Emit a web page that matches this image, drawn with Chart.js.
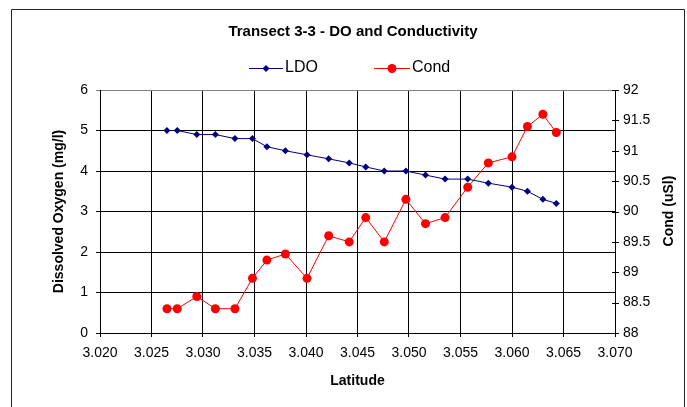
<!DOCTYPE html>
<html><head><meta charset="utf-8">
<script src="https://cdn.jsdelivr.net/npm/chart.js@4"></script>
<style>html,body{margin:0;padding:0;background:#fff;}#wrap{position:relative;width:687px;height:407px;}</style>
</head><body><div id="wrap"><canvas id="c" width="687" height="407"></canvas></div>
<script>
const chartTitle = 'Transect 3-3 - DO and Conductivity';
const latitude = [3.0265,3.0275,3.0294,3.0312,3.0331,3.0348,3.0362,3.0380,3.0401,3.0422,3.0442,3.0458,3.0476,3.0497,3.0516,3.0535,3.0557,3.0577,3.0600,3.0615,3.0630,3.0643];
const ldo = [5.0,5.0,4.9,4.9,4.8,4.8,4.6,4.5,4.4,4.3,4.2,4.1,4.0,4.0,3.9,3.8,3.8,3.7,3.6,3.5,3.3,3.2];
const cond = [88.4,88.4,88.6,88.4,88.4,88.9,89.2,89.3,88.9,89.6,89.5,89.9,89.5,90.2,89.8,89.9,90.4,90.8,90.9,91.4,91.6,91.3];
const xTicks = [3.020,3.025,3.030,3.035,3.040,3.045,3.050,3.055,3.060,3.065,3.070];
const leftTicks = [0,1,2,3,4,5,6];
const rightTicks = [88,88.5,89,89.5,90,90.5,91,91.5,92];

const FAM = '"Liberation Sans", Arial, sans-serif';

const deco = {
  id: 'deco',
  beforeDraw(chart) {
    const c = chart.ctx;
    c.save();
    c.fillStyle = '#fff';
    c.fillRect(0, 0, chart.width, chart.height);
    c.strokeStyle = '#222';
    c.lineWidth = 1;
    c.beginPath();
    c.moveTo(11.5, 430); c.lineTo(11.5, 9.5); c.lineTo(684.5, 9.5); c.lineTo(684.5, 430);
    c.stroke();
    c.restore();
  },
  afterDraw(chart) {
    const c = chart.ctx;
    c.save();
    // title
    c.fillStyle = '#000';
    c.font = 'bold 15px ' + FAM;
    c.textAlign = 'center';
    c.textBaseline = 'middle';
    c.fillText(chartTitle, 353, 32);
    // legend
    const ds = chart.data.datasets;
    const items = [{d: ds[0], x0: 249, x1: 283, tx: 285}, {d: ds[1], x0: 374, x1: 410, tx: 412}];
    const ly = 68;
    items.forEach(it => {
      c.strokeStyle = it.d.borderColor;
      c.lineWidth = 1;
      c.beginPath(); c.moveTo(it.x0, ly + 0.5); c.lineTo(it.x1, ly + 0.5); c.stroke();
      c.fillStyle = it.d.backgroundColor;
      const cx = (it.x0 + it.x1) / 2;
      c.beginPath();
      if (it.d.pointStyle === 'rectRot') {
        const r = it.d.pointRadius;
        c.moveTo(cx, ly + 0.5 - r); c.lineTo(cx + r, ly + 0.5); c.lineTo(cx, ly + 0.5 + r); c.lineTo(cx - r, ly + 0.5); c.closePath();
      } else {
        c.arc(cx, ly + 0.5, it.d.pointRadius, 0, Math.PI * 2);
      }
      c.fill();
      c.fillStyle = '#000';
      c.font = '16px ' + FAM;
      c.textAlign = 'left';
      c.fillText(it.d.label, it.tx, ly);
    });
    // right axis crossing tick marks
    const s = chart.scales.y2;
    c.strokeStyle = '#000';
    c.lineWidth = 1;
    s.ticks.forEach(t => {
      const y = Math.round(s.getPixelForValue(t.value)) + 0.5;
      c.beginPath(); c.moveTo(s.left - 3, y); c.lineTo(s.left + 4, y); c.stroke();
    });
    // right axis title
    c.translate(669, 211);
    c.rotate(-Math.PI / 2);
    c.font = 'bold 14px ' + FAM;
    c.textAlign = 'center';
    c.fillStyle = '#000';
    c.fillText('Cond (uSl)', 0, 0);
    c.restore();
  }
};

new Chart(document.getElementById('c'), {
  type: 'scatter',
  data: {
    datasets: [
      {label: 'LDO', data: latitude.map((x, i) => ({x: x, y: ldo[i]})), yAxisID: 'y', showLine: true,
       borderColor: '#000080', backgroundColor: '#000080', borderWidth: 1, pointStyle: 'rectRot',
       pointRadius: 3.5, pointHoverRadius: 3.5, pointBorderWidth: 0},
      {label: 'Cond', data: latitude.map((x, i) => ({x: x, y: cond[i]})), yAxisID: 'y2', showLine: true,
       borderColor: '#FF0000', backgroundColor: '#FF0000', borderWidth: 1, pointStyle: 'circle',
       pointRadius: 4.5, pointHoverRadius: 4.5, pointBorderWidth: 0}
    ]
  },
  options: {
    responsive: false, animation: false, devicePixelRatio: 1,
    layout: {padding: {top: 90, left: 0, right: 0, bottom: 0}},
    plugins: {legend: {display: false}, title: {display: false}, tooltip: {enabled: false}},
    scales: {
      x: {
        type: 'linear', min: 3.02, max: 3.07,
        afterBuildTicks: s => { s.ticks = xTicks.map(v => ({value: v})); },
        afterFit: s => { s.height = 74; },
        ticks: {callback: v => Number(v).toFixed(3), font: {family: FAM, size: 14}, color: '#000', padding: 8, maxRotation: 0, autoSkip: false},
        grid: {color: '#000', tickLength: 4},
        border: {color: '#000'},
        title: {display: true, text: 'Latitude', font: {family: FAM, size: 14, weight: 'bold'}, color: '#000', padding: {top: 0, bottom: 17}}
      },
      y: {
        position: 'left', min: 0, max: 6,
        afterBuildTicks: s => { s.ticks = leftTicks.map(v => ({value: v})); },
        afterFit: s => { s.width = 100; },
        ticks: {font: {family: FAM, size: 14}, color: '#000', padding: 8},
        grid: {color: c => (c.tick && c.tick.value === 6) ? '#808080' : '#000', tickLength: 4},
        border: {color: '#000'},
        title: {display: true, text: 'Dissolved Oxygen (mg/l)', font: {family: FAM, size: 14, weight: 'bold'}, color: '#000', padding: {top: 51, bottom: 0}}
      },
      y2: {
        position: 'right', min: 88, max: 92,
        afterBuildTicks: s => { s.ticks = rightTicks.map(v => ({value: v})); },
        afterFit: s => { s.width = 72; },
        ticks: {callback: v => String(v), font: {family: FAM, size: 14}, color: '#000', padding: 8},
        grid: {drawOnChartArea: false, drawTicks: false},
        border: {color: '#000'}
      }
    }
  },
  plugins: [deco]
});
</script>
</body></html>
